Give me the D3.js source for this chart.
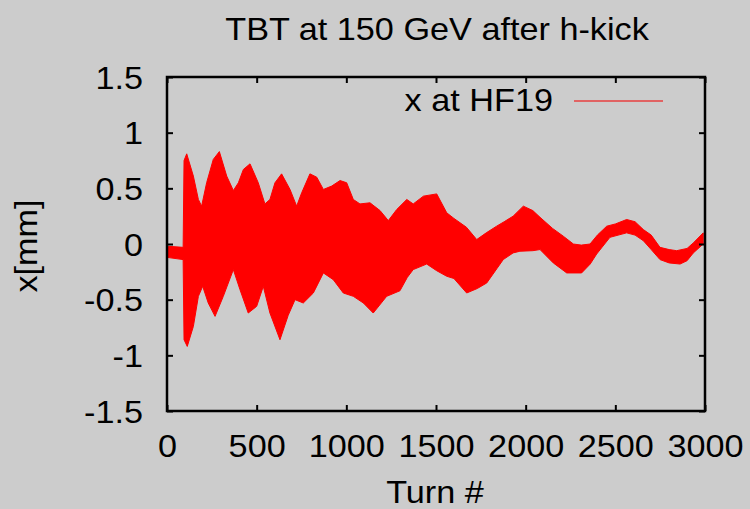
<!DOCTYPE html>
<html>
<head>
<meta charset="utf-8">
<script src="https://cdn.jsdelivr.net/npm/d3@7"></script>
<style>
  body { margin: 0; background: #cccccc; }
  svg { display: block; }
  text { font-family: "Liberation Sans", Arial, sans-serif; fill: #000; }
</style>
</head>
<body>
<svg id="chart"></svg>
<script>
// envelope of the turn-by-turn signal
let upperTurns = [0, 90, 95, 110, 147, 175, 193, 221, 258, 292, 333, 370, 398, 426, 463, 509, 546, 574, 602, 639,
  686, 723, 751, 797, 835, 872, 918, 965, 1002, 1039, 1076, 1132, 1188, 1234, 1281, 1337, 1373, 1430, 1504,
  1560, 1600, 1670, 1727, 1780, 1838, 1880, 1930, 1987, 2040, 2080, 2150, 2210, 2266, 2310, 2359, 2400, 2452,
  2500, 2563, 2610, 2656, 2700, 2749, 2800, 2842, 2900, 2935, 2990];
let upperX = [-0.02, -0.03, 0.75, 0.81, 0.61, 0.40, 0.34, 0.55, 0.76, 0.83, 0.61, 0.48, 0.55, 0.67, 0.72, 0.55,
  0.36, 0.40, 0.55, 0.63, 0.49, 0.34, 0.46, 0.63, 0.60, 0.49, 0.52, 0.57, 0.55, 0.40, 0.36, 0.37, 0.30, 0.21,
  0.31, 0.40, 0.36, 0.43, 0.45, 0.28, 0.23, 0.15, 0.04, 0.10, 0.16, 0.20, 0.25, 0.34, 0.30, 0.24, 0.14, 0.07,
  0.00, -0.01, 0.00, 0.08, 0.16, 0.18, 0.22, 0.20, 0.13, 0.08, -0.03, -0.05, -0.06, -0.04, 0.01, 0.10];
let lowerTurns = [0, 90, 95, 113, 147, 175, 199, 230, 268, 314, 370, 407, 453, 500, 537, 574, 630, 676, 714, 760,
  816, 872, 927, 983, 1039, 1095, 1150, 1225, 1299, 1340, 1373, 1448, 1504, 1560, 1600, 1671, 1730, 1783, 1840,
  1875, 1930, 1968, 2040, 2080, 2154, 2229, 2312, 2360, 2396, 2470, 2563, 2610, 2656, 2700, 2749, 2800, 2861,
  2900, 2935, 2990];
let lowerX = [-0.12, -0.14, -0.86, -0.92, -0.74, -0.47, -0.38, -0.53, -0.65, -0.47, -0.23, -0.41, -0.62, -0.56,
  -0.38, -0.62, -0.86, -0.64, -0.50, -0.53, -0.44, -0.26, -0.32, -0.44, -0.47, -0.53, -0.62, -0.47, -0.42,
  -0.30, -0.23, -0.18, -0.24, -0.29, -0.31, -0.44, -0.40, -0.35, -0.22, -0.14, -0.08, -0.065, -0.06, -0.05,
  -0.17, -0.26, -0.26, -0.18, -0.09, 0.06, 0.10, 0.08, 0.03, -0.05, -0.14, -0.17, -0.18, -0.15, -0.08, 0.00];

let xTicks = [0, 500, 1000, 1500, 2000, 2500, 3000];
let yTicks = [-1.5, -1, -0.5, 0, 0.5, 1, 1.5];

const width = 750;
const height = 509;
const margin = { top: 77, right: 45, bottom: 98, left: 167 };
const plotWidth = width - margin.left - margin.right;
const plotHeight = height - margin.top - margin.bottom;
const fontSize = 32;
const stretch = 1.07;

let svg = d3.select("svg#chart").attr("width", width).attr("height", height);
svg.append("rect").attr("width", width).attr("height", height).attr("fill", "#cccccc");

let turnScale = d3.scaleLinear().domain([0, 3000]).range([0, plotWidth]);
let posScale = d3.scaleLinear().domain([-1.5, 1.5]).range([plotHeight, 0]);

let plot = svg.append("g")
  .attr("transform", "translate(" + margin.left + "," + margin.top + ")");

// outline: upper edge left to right, then lower edge back
let upper = upperTurns.map((t, i) => [t, upperX[i]]);
let lower = lowerTurns.map((t, i) => [t, lowerX[i]]).reverse();

let outline = d3.line()
  .x(d => turnScale(d[0]))
  .y(d => posScale(d[1]))
  .curve(d3.curveLinearClosed);

plot.append("path")
  .datum(upper.concat(lower))
  .attr("d", outline)
  .attr("fill", "#ff0000")
  .attr("stroke", "#ff0000")
  .attr("stroke-width", 1);

// axes with inward ticks, mirrored on top and right
let fmt = d => String(d);
let xAxis = d3.axisBottom(turnScale).tickValues(xTicks).tickSizeInner(-6).tickSizeOuter(0).tickPadding(23).tickFormat(fmt);
let yAxis = d3.axisLeft(posScale).tickValues(yTicks).tickSizeInner(-6).tickSizeOuter(0).tickPadding(22.4).tickFormat(fmt);

let xGroup = plot.append("g").attr("transform", "translate(0," + plotHeight + ")").call(xAxis);
let yGroup = plot.append("g").call(yAxis);
plot.append("g").call(d3.axisTop(turnScale).tickValues(xTicks).tickSizeInner(-6).tickSizeOuter(0).tickFormat(""));
plot.append("g").attr("transform", "translate(" + plotWidth + ",0)")
  .call(d3.axisRight(posScale).tickValues(yTicks).tickSizeInner(-6).tickSizeOuter(0).tickFormat(""));

plot.selectAll(".domain").remove();
plot.selectAll(".tick line").attr("stroke", "#000").attr("stroke-width", 2);

[xGroup, yGroup].forEach(g => g.selectAll("text")
  .attr("font-size", fontSize)
  .attr("fill", "#000")
  .attr("font-family", "Liberation Sans, Arial, sans-serif")
  .attr("transform", "scale(" + stretch + ",1)"));
xGroup.selectAll("text").attr("dy", "0.71em");
yGroup.selectAll("text").attr("dy", "0.35em");

plot.append("rect")
  .attr("width", plotWidth).attr("height", plotHeight)
  .attr("fill", "none").attr("stroke", "#000").attr("stroke-width", 2.5);

function label(x, y, anchor, txt, rot) {
  svg.append("text")
    .attr("transform", "translate(" + x + "," + y + ")" + (rot ? " rotate(" + rot + ")" : "") + " scale(" + stretch + ",1)")
    .attr("text-anchor", anchor)
    .attr("font-size", fontSize)
    .text(txt);
}

// legend
label(553, 111, "end", "x at HF19");
svg.append("line")
  .attr("x1", 574).attr("x2", 663).attr("y1", 101).attr("y2", 101)
  .attr("stroke", "#e84040").attr("stroke-width", 1.5);

// titles
label(437, 40, "middle", "TBT at 150 GeV after h-kick");
label(435, 503, "middle", "Turn #");
label(37, 246, "middle", "x[mm]", -90);
</script>
</body>
</html>
